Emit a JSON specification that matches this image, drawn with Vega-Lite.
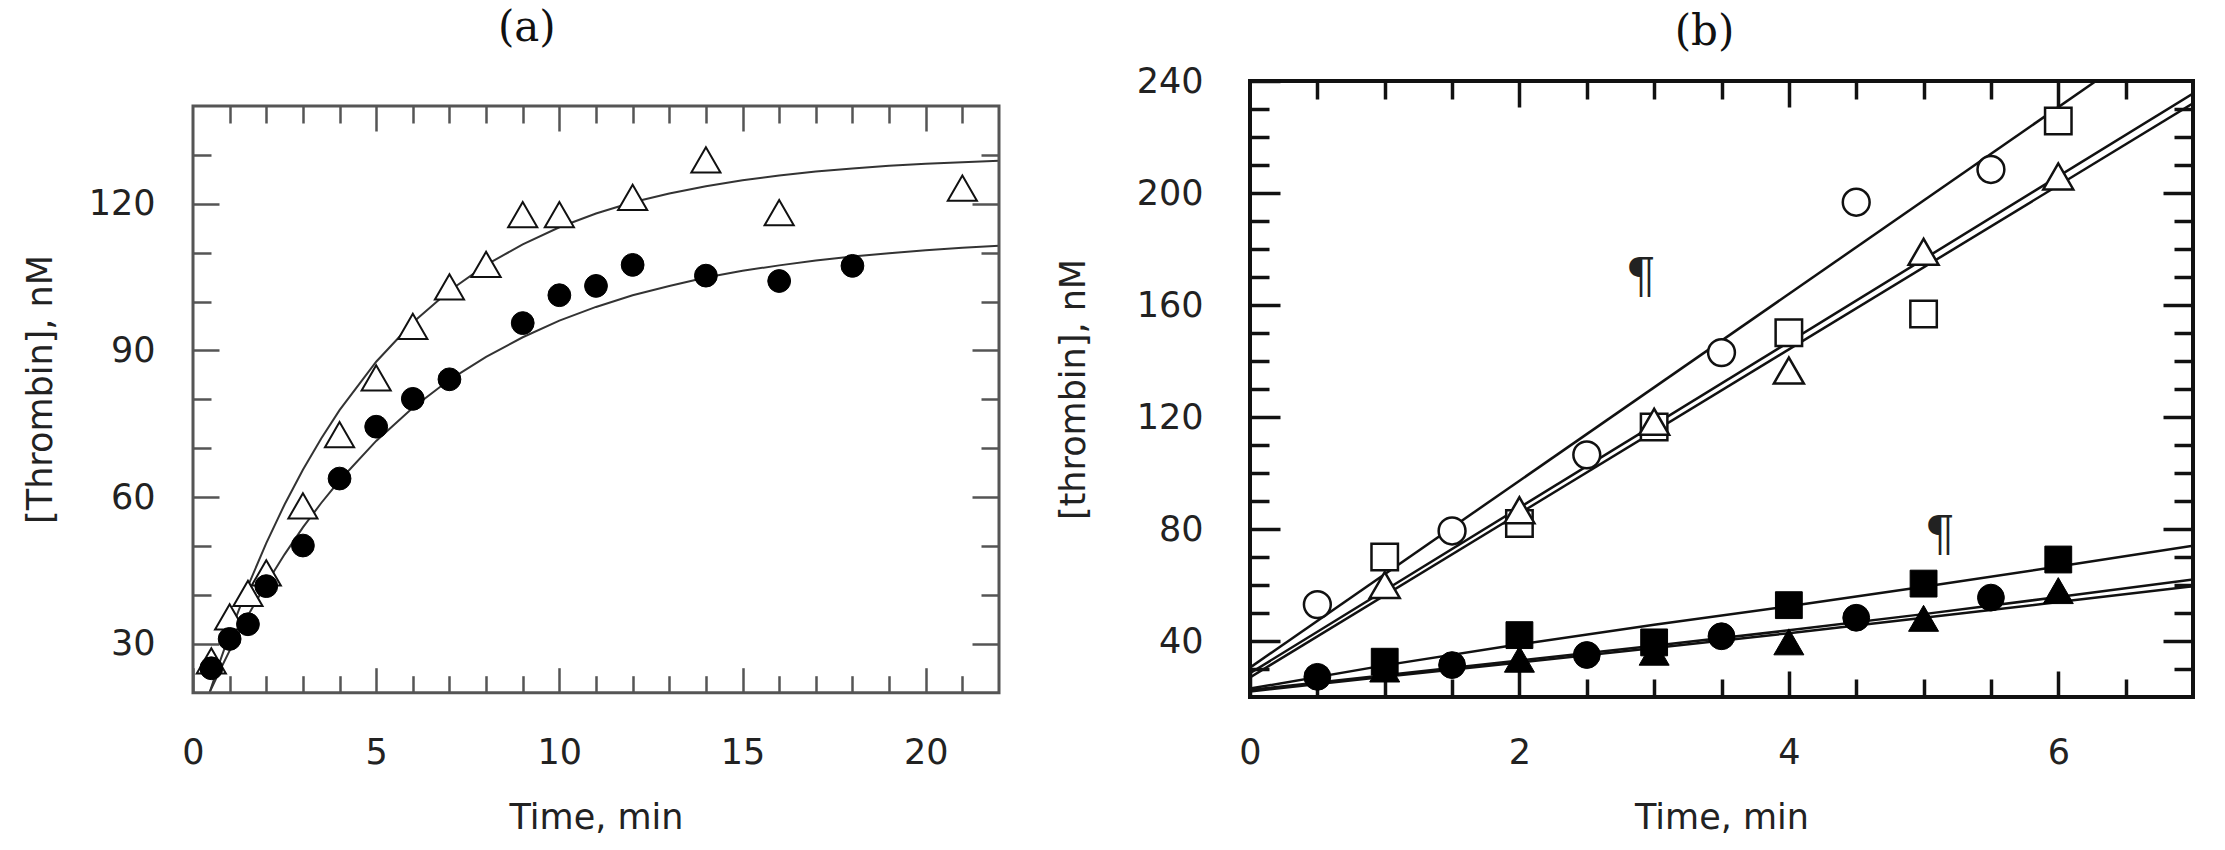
{
  "$schema": "https://vega.github.io/schema/vega-lite/v6.json",
  "background": "white",
  "padding": {"left": 23, "top": 7, "right": 5, "bottom": 5},
  "config": {
    "view": {"stroke": null},
    "font": "DejaVu Sans",
    "axis": {
      "labelFont": "DejaVu Sans", "titleFont": "DejaVu Sans",
      "labelFontSize": 35, "titleFontSize": 35, "titleFontWeight": "normal",
      "labelColor": "#222", "titleColor": "#222",
      "grid": false, "domain": false, "labelFlush": false, "labelOverlap": false
    }
  },
  "datasets": {
    "frame": [{"x0": 0, "x1": 22, "y0": 20, "y1": 140}],
    "a_tri": [{"t":0.5,"v":26.5},{"t":1,"v":35.5},{"t":1.5,"v":40.3},{"t":2,"v":44.5},{"t":3,"v":58.2},{"t":4,"v":72.8},{"t":5,"v":84.4},{"t":6,"v":94.9},{"t":7,"v":103},{"t":8,"v":107.6},{"t":9,"v":117.8},{"t":10,"v":117.8},{"t":12,"v":121.3},{"t":14,"v":129},{"t":16,"v":118.2},{"t":21,"v":123.2}],
    "a_circ": [{"t":0.5,"v":25},{"t":1,"v":31},{"t":1.5,"v":34},{"t":2,"v":41.8},{"t":3,"v":50.1},{"t":4,"v":63.8},{"t":5,"v":74.4},{"t":6,"v":80.1},{"t":7,"v":84.1},{"t":9,"v":95.6},{"t":10,"v":101.3},{"t":11,"v":103.2},{"t":12,"v":107.5},{"t":14,"v":105.3},{"t":16,"v":104.2},{"t":18,"v":107.3}],
    "a_fit_tri": [{"t":0.45,"v":20},{"t":0.75,"v":26.7},{"t":1,"v":32},{"t":1.5,"v":41.8},{"t":2,"v":50.6},{"t":2.5,"v":58.5},{"t":3,"v":65.6},{"t":3.5,"v":72},{"t":4,"v":77.8},{"t":5,"v":87.7},{"t":6,"v":95.7},{"t":7,"v":102.2},{"t":8,"v":107.5},{"t":9,"v":111.7},{"t":10,"v":115.2},{"t":11,"v":118},{"t":12,"v":120.3},{"t":13,"v":122.1},{"t":14,"v":123.6},{"t":15,"v":124.8},{"t":16,"v":125.8},{"t":17,"v":126.6},{"t":18,"v":127.2},{"t":19,"v":127.8},{"t":20,"v":128.2},{"t":21,"v":128.5},{"t":22,"v":128.8}],
    "a_fit_circ": [{"t":0.45,"v":20},{"t":0.75,"v":24.8},{"t":1,"v":28.6},{"t":1.5,"v":35.8},{"t":2,"v":42.3},{"t":2.5,"v":48.3},{"t":3,"v":53.8},{"t":3.5,"v":58.8},{"t":4,"v":63.4},{"t":5,"v":71.5},{"t":6,"v":78.3},{"t":7,"v":84},{"t":8,"v":88.7},{"t":9,"v":92.7},{"t":10,"v":96.1},{"t":11,"v":98.9},{"t":12,"v":101.3},{"t":13,"v":103.2},{"t":14,"v":104.9},{"t":15,"v":106.3},{"t":16,"v":107.4},{"t":17,"v":108.4},{"t":18,"v":109.2},{"t":19,"v":109.9},{"t":20,"v":110.5},{"t":21,"v":111},{"t":22,"v":111.4}],
    "b_lines_up": [{"s":"oc","t":0,"v":30.5},{"s":"oc","t":6.28,"v":240},{"s":"os","t":0,"v":28.5},{"s":"os","t":7,"v":235.5},{"s":"ot","t":0,"v":27},{"s":"ot","t":7,"v":232}],
    "b_lines_low": [{"s":"fs","t":0,"v":23},{"s":"fs","t":1,"v":31.3},{"s":"fs","t":2,"v":38.8},{"s":"fs","t":3,"v":45.8},{"s":"fs","t":4,"v":52.4},{"s":"fs","t":5,"v":59.4},{"s":"fs","t":6,"v":66.6},{"s":"fs","t":7,"v":74},{"s":"fc","t":0,"v":22.5},{"s":"fc","t":1,"v":27.8},{"s":"fc","t":2,"v":33},{"s":"fc","t":3,"v":38.3},{"s":"fc","t":4,"v":43.8},{"s":"fc","t":5,"v":49.6},{"s":"fc","t":6,"v":55.7},{"s":"fc","t":7,"v":62},{"s":"ft","t":0,"v":22},{"s":"ft","t":1,"v":27.2},{"s":"ft","t":2,"v":32.3},{"s":"ft","t":3,"v":37.5},{"s":"ft","t":4,"v":42.8},{"s":"ft","t":5,"v":48.3},{"s":"ft","t":6,"v":53.9},{"s":"ft","t":7,"v":59.6}],
    "b_ocirc": [{"t":0.5,"v":53},{"t":1.5,"v":79.3},{"t":2.5,"v":106.5},{"t":3.5,"v":143},{"t":4.5,"v":196.7},{"t":5.5,"v":208.4}],
    "b_osq": [{"t":1,"v":70},{"t":2,"v":82},{"t":3,"v":116.4},{"t":4,"v":150.1},{"t":5,"v":156.8},{"t":6,"v":225.7}],
    "b_otri": [{"t":1,"v":60},{"t":2,"v":86.7},{"t":3,"v":118.3},{"t":4,"v":136.6},{"t":5,"v":179},{"t":6,"v":205.9}],
    "b_fsq": [{"t":1,"v":32.6},{"t":2,"v":42.1},{"t":3,"v":39.5},{"t":4,"v":52.8},{"t":5,"v":60.5},{"t":6,"v":69.1}],
    "b_fcirc": [{"t":0.5,"v":27.2},{"t":1.5,"v":31.4},{"t":2.5,"v":35},{"t":3.5,"v":41.7},{"t":4.5,"v":48.3},{"t":5.5,"v":55.5}],
    "b_ftri": [{"t":1,"v":30},{"t":2,"v":33.5},{"t":3,"v":36},{"t":4,"v":39.7},{"t":5,"v":48.1},{"t":6,"v":58}],
    "b_marks": [{"t":2.9,"v":169.3,"label":"¶"},{"t":5.12,"v":77,"label":"¶"}]
  },
  "columns": 2,
  "align": "none",
  "spacing": 53,
  "concat": [
    {
      "width": 806,
      "height": 616,
      "title": {"text": "(a)", "font": "DejaVu Serif", "fontSize": 42, "fontWeight": "normal", "color": "#111", "frame": "bounds", "anchor": "middle", "dx": 15, "offset": 31},
      "resolve": {"axis": {"x": "independent", "y": "independent"}},
      "layer": [
        {
          "data": {"name": "a_fit_tri"},
          "mark": {"type": "line", "stroke": "#333", "strokeWidth": 2, "clip": true},
          "encoding": {
            "x": {"field": "t", "type": "quantitative", "scale": {"domain": [0, 22], "nice": false, "zero": false},
                  "axis": {"orient": "bottom", "offset": -4.3, "values": [0, 5, 10, 15, 20], "tickSize": -25, "tickWidth": 2.5, "tickColor": "#555", "labelPadding": 68, "title": "Time, min", "titlePadding": 30}},
            "y": {"field": "v", "type": "quantitative", "scale": {"domain": [19.12, 145.11], "nice": false, "zero": false},
                  "axis": {"orient": "left", "values": [30, 60, 90, 120], "tickSize": -26, "tickWidth": 2.5, "tickColor": "#555", "labelPadding": 64, "title": "[Thrombin], nM", "titlePadding": 30}}
          }
        },
        {
          "data": {"name": "a_fit_circ"},
          "mark": {"type": "line", "stroke": "#333", "strokeWidth": 2, "clip": true},
          "encoding": {
            "x": {"field": "t", "type": "quantitative", "scale": {"domain": [0, 22], "nice": false, "zero": false},
                  "axis": {"orient": "bottom", "offset": -4.3, "values": [1,2,3,4,6,7,8,9,11,12,13,14,16,17,18,19,21], "tickSize": -17, "tickWidth": 2.5, "tickColor": "#555", "labels": false, "title": null}},
            "y": {"field": "v", "type": "quantitative", "scale": {"domain": [19.12, 145.11], "nice": false, "zero": false},
                  "axis": {"orient": "left", "values": [40, 50, 70, 80, 100, 110, 130], "tickSize": -18, "tickWidth": 2.5, "tickColor": "#555", "labels": false, "title": null}}
          }
        },
        {
          "data": {"name": "frame"},
          "mark": {"type": "rect", "filled": false, "stroke": "#555", "strokeWidth": 3},
          "encoding": {
            "x": {"field": "x0", "type": "quantitative", "scale": {"domain": [0, 22], "nice": false, "zero": false},
                  "axis": {"orient": "top", "offset": -25, "values": [5, 10, 15, 20], "tickSize": -25, "tickWidth": 2.5, "tickColor": "#555", "labels": false, "title": null}},
            "x2": {"field": "x1"},
            "y": {"field": "y0", "type": "quantitative", "scale": {"domain": [19.12, 145.11], "nice": false, "zero": false},
                  "axis": {"orient": "right", "values": [30, 60, 90, 120], "tickSize": -27, "tickWidth": 2.5, "tickColor": "#555", "labels": false, "title": null}},
            "y2": {"field": "y1"}
          }
        },
        {
          "data": {"name": "a_tri"},
          "mark": {"type": "point", "shape": "triangle-up", "size": 850, "filled": true, "fill": "white", "stroke": "#111", "strokeWidth": 2, "opacity": 1},
          "encoding": {
            "x": {"field": "t", "type": "quantitative", "scale": {"domain": [0, 22], "nice": false, "zero": false},
                  "axis": {"orient": "top", "offset": -25, "values": [1,2,3,4,6,7,8,9,11,12,13,14,16,17,18,19,21], "tickSize": -17, "tickWidth": 2.5, "tickColor": "#555", "labels": false, "title": null}},
            "y": {"field": "v", "type": "quantitative", "scale": {"domain": [19.12, 145.11], "nice": false, "zero": false},
                  "axis": {"orient": "right", "values": [40, 50, 70, 80, 100, 110, 130], "tickSize": -18, "tickWidth": 2.5, "tickColor": "#555", "labels": false, "title": null}}
          }
        },
        {
          "data": {"name": "a_circ"},
          "mark": {"type": "point", "shape": "circle", "size": 520, "filled": true, "fill": "black", "stroke": "black", "strokeWidth": 1, "opacity": 1},
          "encoding": {
            "x": {"field": "t", "type": "quantitative", "scale": {"domain": [0, 22], "nice": false, "zero": false}, "axis": null},
            "y": {"field": "v", "type": "quantitative", "scale": {"domain": [19.12, 145.11], "nice": false, "zero": false}, "axis": null}
          }
        }
      ]
    },
    {
      "width": 943,
      "height": 616,
      "view": {"stroke": "#111", "strokeWidth": 4},
      "title": {"text": "(b)", "font": "DejaVu Serif", "fontSize": 42, "fontWeight": "normal", "color": "#111", "frame": "group", "anchor": "middle", "dx": -17, "offset": 10},
      "resolve": {"axis": {"x": "independent", "y": "independent"}},
      "layer": [
        {
          "data": {"name": "b_lines_up"},
          "mark": {"type": "line", "stroke": "#111", "strokeWidth": 2.5, "clip": true},
          "encoding": {
            "detail": {"field": "s"},
            "x": {"field": "t", "type": "quantitative", "scale": {"domain": [0, 7], "nice": false, "zero": false},
                  "axis": {"orient": "bottom", "values": [0, 2, 4, 6], "tickSize": -26, "tickWidth": 3.5, "tickColor": "#111", "labelPadding": 64, "title": "Time, min", "titlePadding": 30}},
            "y": {"field": "v", "type": "quantitative", "scale": {"domain": [20, 240], "nice": false, "zero": false},
                  "axis": {"orient": "left", "values": [40, 80, 120, 160, 200, 240], "tickSize": -30, "tickWidth": 3.5, "tickColor": "#111", "labelPadding": 77, "title": "[thrombin], nM", "titlePadding": 45}}
          }
        },
        {
          "data": {"name": "b_lines_low"},
          "mark": {"type": "line", "stroke": "#111", "strokeWidth": 2.5, "clip": true},
          "encoding": {
            "detail": {"field": "s"},
            "x": {"field": "t", "type": "quantitative", "scale": {"domain": [0, 7], "nice": false, "zero": false},
                  "axis": {"orient": "bottom", "values": [0.5,1,1.5,2.5,3,3.5,4.5,5,5.5,6.5], "tickSize": -18, "tickWidth": 3.5, "tickColor": "#111", "labels": false, "title": null}},
            "y": {"field": "v", "type": "quantitative", "scale": {"domain": [20, 240], "nice": false, "zero": false},
                  "axis": {"orient": "left", "values": [30,50,60,70,90,100,110,130,140,150,170,180,190,210,220,230], "tickSize": -19, "tickWidth": 3.5, "tickColor": "#111", "labels": false, "title": null}}
          }
        },
        {
          "data": {"name": "b_ocirc"},
          "mark": {"type": "point", "shape": "circle", "size": 720, "filled": true, "fill": "white", "stroke": "#111", "strokeWidth": 2.5, "opacity": 1},
          "encoding": {
            "x": {"field": "t", "type": "quantitative", "scale": {"domain": [0, 7], "nice": false, "zero": false},
                  "axis": {"orient": "top", "values": [2, 4, 6], "tickSize": -26, "tickWidth": 3.5, "tickColor": "#111", "labels": false, "title": null}},
            "y": {"field": "v", "type": "quantitative", "scale": {"domain": [20, 240], "nice": false, "zero": false},
                  "axis": {"orient": "right", "values": [40, 80, 120, 160, 200], "tickSize": -30, "tickWidth": 3.5, "tickColor": "#111", "labels": false, "title": null}}
          }
        },
        {
          "data": {"name": "b_osq"},
          "mark": {"type": "point", "shape": "square", "size": 700, "filled": true, "fill": "white", "stroke": "#111", "strokeWidth": 2.5, "opacity": 1},
          "encoding": {
            "x": {"field": "t", "type": "quantitative", "scale": {"domain": [0, 7], "nice": false, "zero": false},
                  "axis": {"orient": "top", "values": [0.5,1,1.5,2.5,3,3.5,4.5,5,5.5,6.5], "tickSize": -18, "tickWidth": 3.5, "tickColor": "#111", "labels": false, "title": null}},
            "y": {"field": "v", "type": "quantitative", "scale": {"domain": [20, 240], "nice": false, "zero": false},
                  "axis": {"orient": "right", "values": [30,50,60,70,90,100,110,130,140,150,170,180,190,210,220,230], "tickSize": -19, "tickWidth": 3.5, "tickColor": "#111", "labels": false, "title": null}}
          }
        },
        {
          "data": {"name": "b_otri"},
          "mark": {"type": "point", "shape": "triangle-up", "size": 900, "filled": true, "fill": "white", "stroke": "#111", "strokeWidth": 2.5, "opacity": 1},
          "encoding": {
            "x": {"field": "t", "type": "quantitative", "scale": {"domain": [0, 7], "nice": false, "zero": false}, "axis": null},
            "y": {"field": "v", "type": "quantitative", "scale": {"domain": [20, 240], "nice": false, "zero": false}, "axis": null}
          }
        },
        {
          "data": {"name": "b_fsq"},
          "mark": {"type": "point", "shape": "square", "size": 720, "filled": true, "fill": "black", "stroke": "black", "strokeWidth": 1, "opacity": 1},
          "encoding": {
            "x": {"field": "t", "type": "quantitative", "scale": {"domain": [0, 7], "nice": false, "zero": false}, "axis": null},
            "y": {"field": "v", "type": "quantitative", "scale": {"domain": [20, 240], "nice": false, "zero": false}, "axis": null}
          }
        },
        {
          "data": {"name": "b_fcirc"},
          "mark": {"type": "point", "shape": "circle", "size": 720, "filled": true, "fill": "black", "stroke": "black", "strokeWidth": 1, "opacity": 1},
          "encoding": {
            "x": {"field": "t", "type": "quantitative", "scale": {"domain": [0, 7], "nice": false, "zero": false}, "axis": null},
            "y": {"field": "v", "type": "quantitative", "scale": {"domain": [20, 240], "nice": false, "zero": false}, "axis": null}
          }
        },
        {
          "data": {"name": "b_ftri"},
          "mark": {"type": "point", "shape": "triangle-up", "size": 900, "filled": true, "fill": "black", "stroke": "black", "strokeWidth": 1, "opacity": 1},
          "encoding": {
            "x": {"field": "t", "type": "quantitative", "scale": {"domain": [0, 7], "nice": false, "zero": false}, "axis": null},
            "y": {"field": "v", "type": "quantitative", "scale": {"domain": [20, 240], "nice": false, "zero": false}, "axis": null}
          }
        },
        {
          "data": {"name": "b_marks"},
          "mark": {"type": "text", "font": "DejaVu Serif", "fontSize": 48, "color": "#222", "align": "center", "baseline": "middle"},
          "encoding": {
            "text": {"field": "label"},
            "x": {"field": "t", "type": "quantitative", "scale": {"domain": [0, 7], "nice": false, "zero": false}, "axis": null},
            "y": {"field": "v", "type": "quantitative", "scale": {"domain": [20, 240], "nice": false, "zero": false}, "axis": null}
          }
        }
      ]
    }
  ]
}
